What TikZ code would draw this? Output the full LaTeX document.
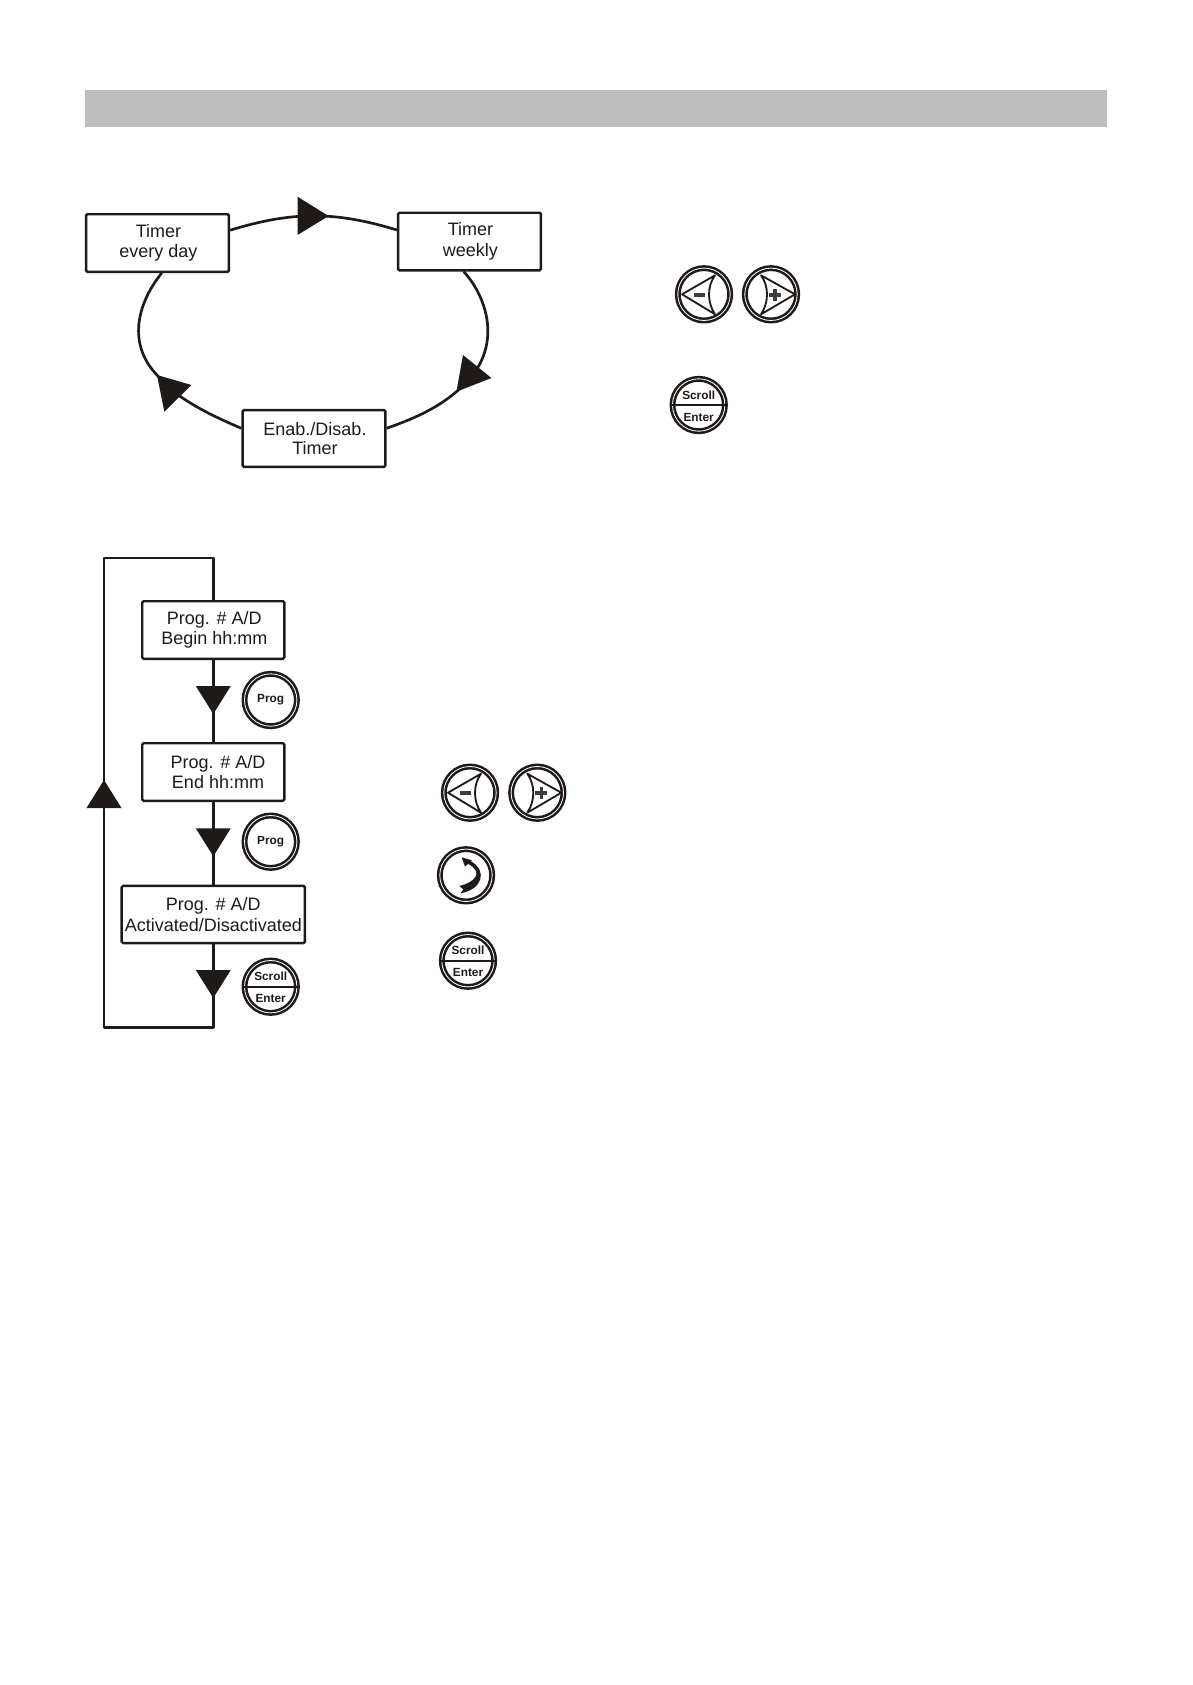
\documentclass[tikz,border=0pt]{standalone}
\usepackage{fontspec}
\setmainfont{Liberation Sans}
\usetikzlibrary{calc,positioning}
\definecolor{ink}{HTML}{1F1A17}
\definecolor{band}{HTML}{BEBEBE}
\tikzset{
  box/.style={draw=ink,line width=1.7pt,rounded corners=1pt,inner sep=0pt,align=center,text=ink,
    font=\fontsize{12.8}{14.5}\selectfont},
  link/.style={draw=ink,line width=1.9pt},
  tip/.style={fill=ink,draw=none},
  keybtn/.style={circle,draw=ink,line width=1.8pt,double,double distance=0.6pt,minimum size=1.31cm,inner sep=0pt},
  keytext/.style={inner sep=0pt,text=ink,font=\fontsize{8.4}{10}\selectfont\bfseries},
  keyline/.style={draw=ink,line width=1.2pt},
  keyglyph/.style={draw=ink,line width=1.3pt,line join=round},
  keysign/.style={draw=ink!85!white,line width=2.5pt}
}
% round keys
\newcommand\minuskey[2]{
  \node[keybtn] (#1) at (#2) {};
  \begin{scope}[shift={(#2)}]
    \draw[keyglyph] (-22,0) -- (11,-19) .. controls (3,-8) and (3,8) .. (11,20) -- cycle;
    \draw[keysign] (-10.5,0.5) -- (1,0.5);
  \end{scope}
}
\newcommand\pluskey[2]{
  \node[keybtn] (#1) at (#2) {};
  \begin{scope}[shift={(#2)}]
    \draw[keyglyph] (24,0) -- (-10,-19) .. controls (-2,-8) and (-2,8) .. (-10,20) -- cycle;
    \draw[keysign] (-2,0.5) -- (10,0.5) (4,-5.5) -- (4,6.5);
  \end{scope}
}
\newcommand\scrollkey[2]{
  \node[keybtn] (#1) at (#2) {};
  \draw[keyline] (#1.west) -- (#1.east);
  \node[keytext] (#1up) at ($(#1)+(0,-10)$) {Scroll};
  \node[keytext] (#1dn) at ($(#1)+(0,12)$) {Enter};
}
\begin{document}
\begin{tikzpicture}[x=0.025cm,y=-0.025cm]
  \useasboundingbox (0,0) rectangle (1192,1685);
  \fill[band] (85,90.4) rectangle (1107,127);

  % timer menu
  \node[box,minimum width=3.57cm,minimum height=1.44cm] (everyday) at (157.5,243) {\hspace*{1.4pt}Timer\\\hspace*{1.4pt}every day};
  \node[box,minimum width=3.57cm,minimum height=1.44cm] (weekly) at (469.5,241.5) {\hspace*{1.4pt}Timer\\\hspace*{1.4pt}weekly};
  \node[box,minimum width=3.57cm,minimum height=1.42cm] (enable) at (314,438.5) {\hspace*{1.4pt}Enab./Disab.\\[-1pt]\hspace*{1.4pt}Timer};

  \draw[link] (everyday.10) to[out=17,in=163] (weekly.171);
  \draw[link] (weekly.-101) .. controls (488,298) and (506,352) .. (456,392)
    .. controls (435,410) and (410,420) .. (enable.8);
  \draw[link] (enable.172) .. controls (210,415) and (175,398) .. (157,375)
    .. controls (128,345) and (136,305) .. (everyday.-82);
  \fill[tip] (297.5,196.7) -- (328.6,216) -- (297.5,235) -- cycle;
  \fill[tip] (463,355) -- (491.4,378) -- (456.4,391.7) -- cycle;
  \fill[tip] (164.3,411.7) -- (157,375) -- (191.4,385) -- cycle;

  \minuskey{dayminus}{704,294.3}
  \pluskey{dayplus}{771,294.3}
  \scrollkey{dayscroll}{698.7,405}

  % program loop
  \node[box,minimum width=3.55cm,minimum height=1.44cm] (progbegin) at (213.3,630) {\hspace*{1.4pt}Prog. \# A/D\\\hspace*{1.4pt}Begin hh:mm};
  \node[box,minimum width=3.55cm,minimum height=1.44cm] (progend) at (213.3,772) {\hspace*{6.7pt}Prog. \# A/D\\\hspace*{6.7pt}End hh:mm};
  \node[box,minimum width=4.58cm,minimum height=1.43cm] (progact) at (213.3,914.5) {Prog. \# A/D\\Activated/Disactivated};

  \coordinate (looptr) at (213.3,558);
  \coordinate (looptl) at (104,558);
  \coordinate (loopbl) at (104,1027.7);
  \coordinate (loopbr) at (213.3,1027.7);
  \draw[link] (progbegin) -- (progend);
  \draw[link] (progend) -- (progact);
  \draw[link,line join=round] (progact.south) -- (loopbr) -- (loopbl) -- (looptl) -- (looptr) -- (progbegin.north);
  \foreach \ytop in {686,828.3,970}
    \fill[tip] (213.3,\ytop) ++(-17.5,0) -- ++(35,0) -- ++(-17.5,28) -- cycle;
  \fill[tip] (104,780) -- (121.5,808) -- (86.5,808) -- cycle;

  \node[keybtn] (progkeya) at (270.7,700) {};
  \node[keytext] (progkeyatext) at (progkeya) {Prog};
  \node[keybtn] (progkeyb) at (270.7,841.7) {};
  \node[keytext] (progkeybtext) at (progkeyb) {Prog};
  \scrollkey{loopscroll}{270.7,986.7}

  \minuskey{editminus}{470,792.7}
  \pluskey{editplus}{537.3,792.7}
  \node[keybtn] (nextkey) at (466,875.3) {};
  \fill[tip,shift={(466,875.3)}] (-5.3,18) -- (-2.7,14) -- (-6.7,10.7)
    .. controls (9,7) and (18,-3) .. (2,-11.5) -- (-1,-8.7) -- (-4.3,-18) -- (5.7,-15) -- (5,-14)
    .. controls (22,-4) and (16,14) .. (-5.3,18) -- cycle;
  \scrollkey{editscroll}{468,960.7}
\end{tikzpicture}
\end{document}
